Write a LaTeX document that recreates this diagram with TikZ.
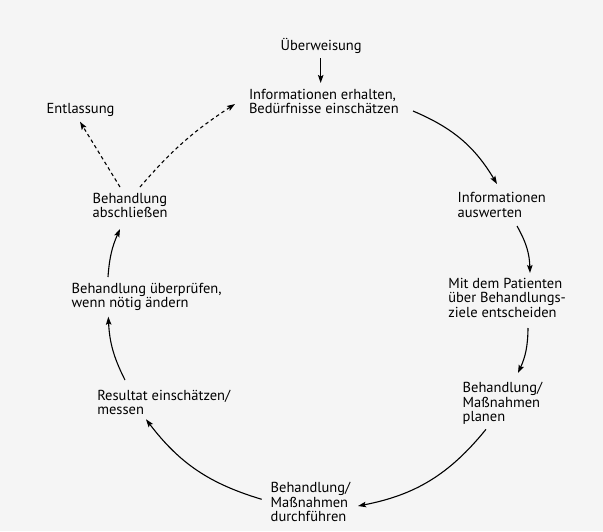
\documentclass[tikz,border=0pt]{standalone}
\usepackage{fontspec}
\setmainfont{PT Sans}
\usetikzlibrary{arrows.meta}
\newcommand{\tp}{\rule{0pt}{11pt}}
\begin{document}
\begin{tikzpicture}[x=1pt,y=-1pt,
  lbl/.style={anchor=north west, inner sep=0pt, outer sep=0pt, align=left,
    font=\fontsize{14.5}{14.4}\selectfont},
  arr/.style={line width=1.1pt, -{Stealth[length=8pt,width=5.5pt,inset=1.5pt]}},
  darr/.style={arr, dash pattern=on 3.5pt off 3pt}]
\useasboundingbox[fill=black!4] (0,0) rectangle (603,531);

\node[lbl] (ueb)   at (280.7,38.3) {\tp Überweisung};
\node[lbl] (inf)   at (249,88)     {\tp Informationen erhalten,\\Bedürfnisse einschätzen};
\node[lbl] (ent)   at (46.7,102.3) {\tp Entlassung};
\node[lbl] (abs)   at (92.7,192.3) {\tp Behandlung\\abschließen};
\node[lbl] (aus)   at (457.7,191.7){\tp Informationen\\auswerten};
\node[lbl] (mit)   at (448.3,277.3){\tp Mit dem Patienten\\über Behandlungs-\\ziele entscheiden};
\node[lbl] (upr)   at (71.7,282.3) {\tp Behandlung überprüfen,\\wenn nötig ändern};
\node[lbl] (res)   at (97.3,389)   {\tp Resultat einschätzen/\\messen};
\node[lbl] (plan)  at (462.7,381.7){\tp Behandlung/\\Maßnahmen\\planen};
\node[lbl] (durch) at (270.7,481.7){\tp Behandlung/\\Maßnahmen\\durchführen};

\draw[arr] ([shift={(40,19.7)}]ueb.north west) -- ([shift={(71.7,-5)}]inf.north west);
\draw[arr] ([shift={(164,23)}]inf.north west) to[bend left=18] ([shift={(39.3,-7.7)}]aus.north west);
\draw[arr] ([shift={(59.3,34.3)}]aus.north west) to[bend left=14] ([shift={(81.7,-4.3)}]mit.north west);
\draw[arr] ([shift={(79.7,50.7)}]mit.north west) to[bend left=12] ([shift={(55.3,-8.7)}]plan.north west);
\draw[arr] ([shift={(23.3,47.6)}]plan.north west) to[bend left=20] ([shift={(87.3,24.3)}]durch.north west);
\draw[arr] ([shift={(-9,17.6)}]durch.north west) to[bend left=18] ([shift={(48.7,30.3)}]res.north west);
\draw[arr] ([shift={(27.7,-9)}]res.north west) to[bend left=12] ([shift={(36.6,34.4)}]upr.north west);
\draw[arr] ([shift={(36.3,-5.3)}]upr.north west) to[bend left=10] ([shift={(27.3,36.7)}]abs.north west);
\draw[darr] ([shift={(27.3,-5.3)}]abs.north west) -- ([shift={(33.3,19.4)}]ent.north west);
\draw[darr] ([shift={(47.3,-5.3)}]abs.north west) to[bend left=8] ([shift={(-14,16)}]inf.north west);
\end{tikzpicture}
\end{document}
